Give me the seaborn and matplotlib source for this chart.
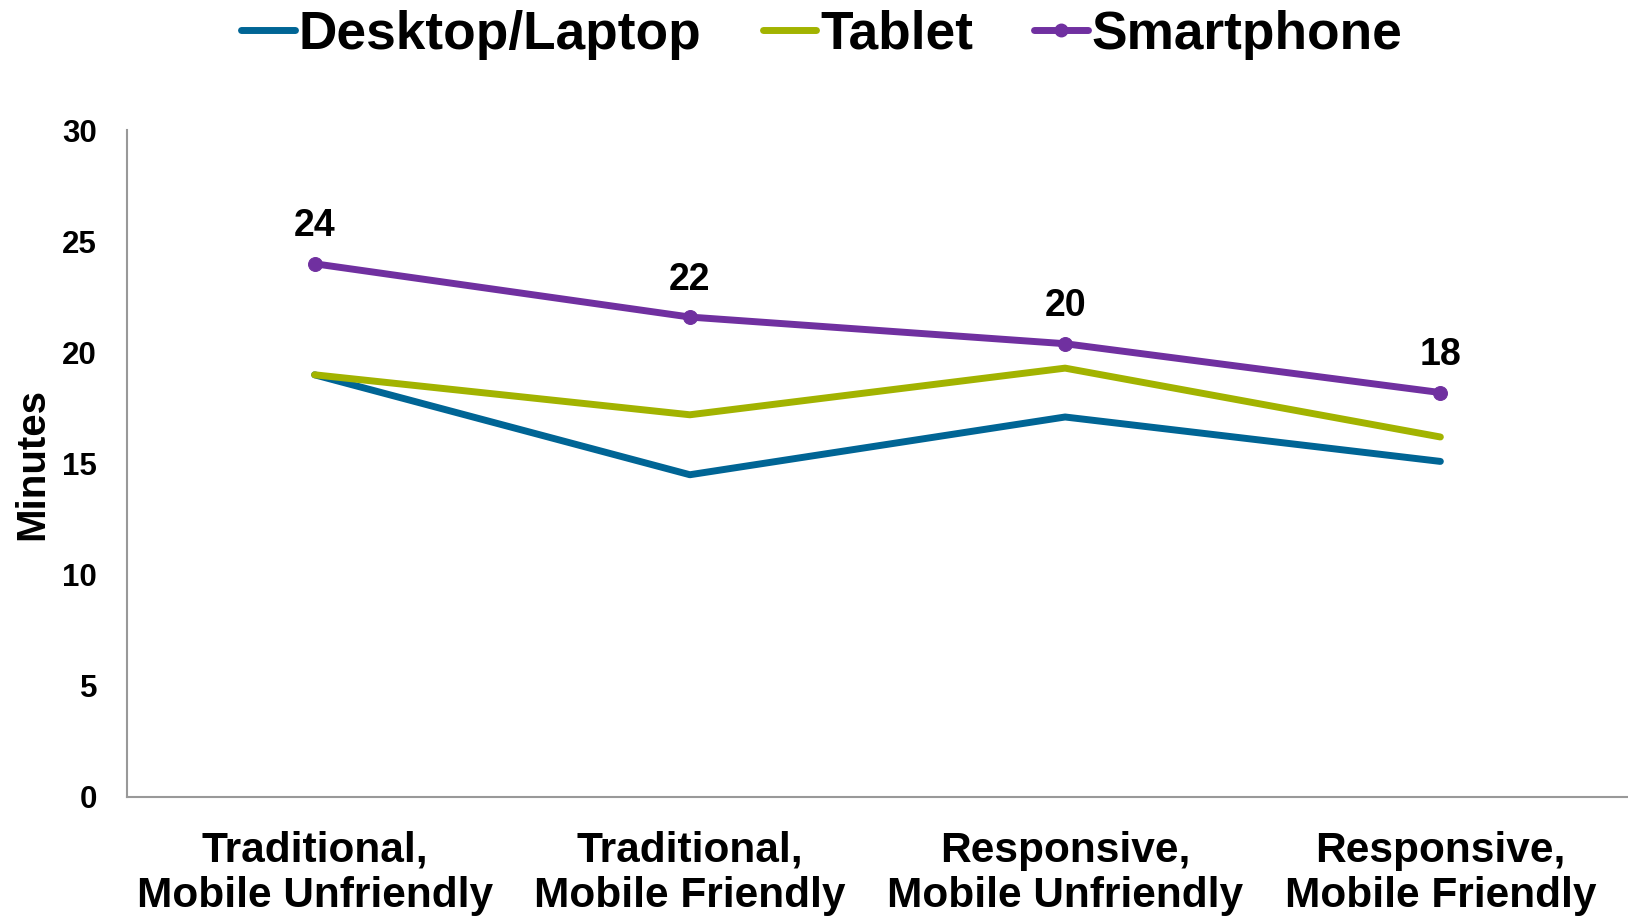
import pandas as pd
import numpy as np
import matplotlib.pyplot as plt
import seaborn as sns
from matplotlib.lines import Line2D

# Chart data
categories = ['Traditional,\nMobile Unfriendly', 'Traditional,\nMobile Friendly',
              'Responsive,\nMobile Unfriendly', 'Responsive,\nMobile Friendly']
desktop = [19.0, 14.5, 17.1, 15.1]
tablet = [19.0, 17.2, 19.3, 16.2]
smartphone = [24.0, 21.6, 20.4, 18.2]
smartphone_labels = ['24', '22', '20', '18']

devices = ['Desktop/Laptop', 'Tablet', 'Smartphone']
colors = {'Desktop/Laptop': '#006595', 'Tablet': '#A2B300', 'Smartphone': '#7030A0'}

# Long-form table for seaborn
df = pd.DataFrame({
    'Category': categories * 3,
    'Device': np.repeat(devices, len(categories)),
    'Minutes': desktop + tablet + smartphone,
})

sns.set_style('white')
plt.rcParams['font.family'] = ['Liberation Sans', 'DejaVu Sans']
plt.rcParams['font.weight'] = 'bold'
plt.rcParams['text.color'] = 'black'
plt.rcParams['axes.labelcolor'] = 'black'
plt.rcParams['xtick.color'] = 'black'
plt.rcParams['ytick.color'] = 'black'

fig = plt.figure(figsize=(16.28, 9.19), dpi=100)
ax = fig.add_axes([0.078, 0.133, 0.922, 0.725])

sns.lineplot(data=df, x='Category', y='Minutes', hue='Device', hue_order=devices,
             palette=colors, linewidth=5, sort=False, ax=ax, legend=False)

# markers only on the smartphone line
for line in ax.lines:
    line.set_solid_capstyle('round')
ax.lines[2].set_marker('o')
ax.lines[2].set_markersize(10)
ax.lines[2].set_markeredgecolor(colors['Smartphone'])

# data labels above smartphone points
for i, (v, lab) in enumerate(zip(smartphone, smartphone_labels)):
    ax.annotate(lab, (i, v), xytext=(0, 14), textcoords='offset points',
                ha='center', va='bottom', fontsize=27, fontweight='bold')

ax.set_xlim(-0.5, 3.5)
ax.set_ylim(0, 30)
ax.set_yticks(range(0, 31, 5))
ax.set_xticks(range(len(categories)))
ax.set_xticklabels(categories, fontsize=30.5, fontweight='bold', linespacing=1.17)
ax.tick_params(axis='y', labelsize=22.5, pad=18)
ax.tick_params(axis='x', pad=21)
for t in ax.get_yticklabels():
    t.set_fontweight('bold')
ax.set_xlabel('')
ax.set_ylabel('Minutes', fontsize=29, fontweight='bold', labelpad=8)

for side in ['top', 'right']:
    ax.spines[side].set_visible(False)
for side in ['left', 'bottom']:
    ax.spines[side].set_color('#999999')
    ax.spines[side].set_linewidth(1.5)

# legend on top
handles = [Line2D([], [], color=colors[d], linewidth=5, solid_capstyle='round',
                  marker='o' if d == 'Smartphone' else None, markersize=9)
           for d in devices]
fig.legend(handles, devices, loc='center', bbox_to_anchor=(0.505, 0.962), ncol=3,
           frameon=False, prop={'size': 38.3, 'weight': 'bold'},
           handlelength=1.0, handletextpad=0.08, columnspacing=1.15)

fig.savefig('out.png', dpi=100)
